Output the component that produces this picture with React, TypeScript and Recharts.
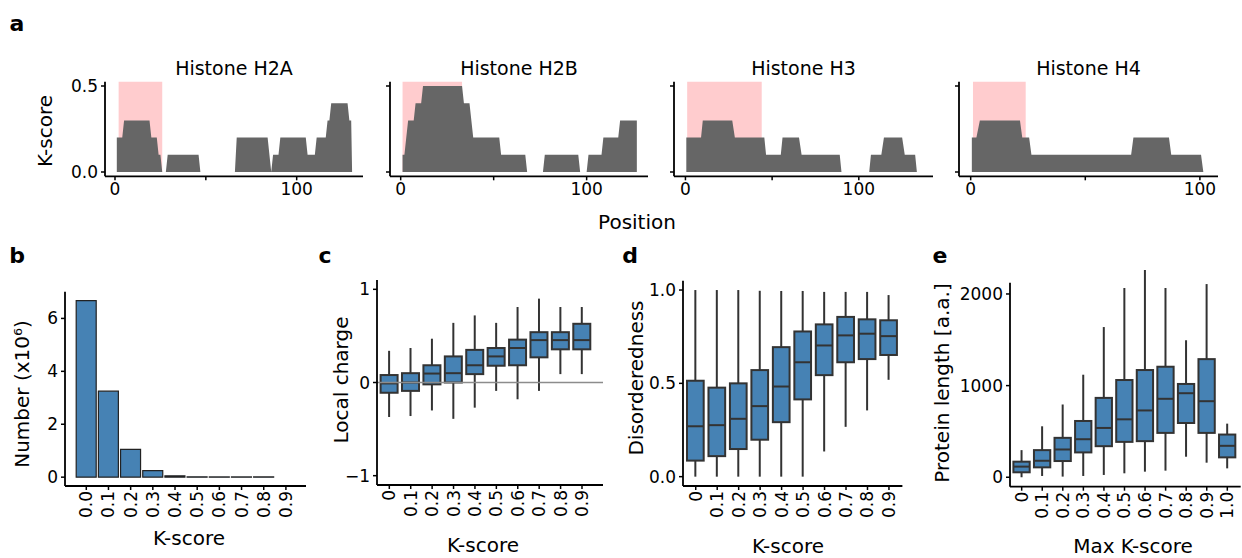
import React from "react";
import {
  AreaChart,
  Area,
  BarChart,
  Bar,
  ComposedChart,
  XAxis,
  YAxis,
  ReferenceArea,
  ReferenceLine,
} from "recharts";

const FONT = "'DejaVu Sans', sans-serif";
const STEEL = "#4682b4";
const INK = "#333333";
const PINK = "#ffccce";

// ---- panel a: K-score along each histone, [position, K-score] breakpoints ----
const h2aProfile: [number, number][] = [
  [1, 0], [1, 0.2], [4, 0.2], [5, 0.3], [19, 0.3], [20, 0.2], [23, 0.2], [24, 0.1], [25, 0.1], [26, 0],
  [28, 0], [29, 0.1], [46, 0.1], [47, 0],
  [66, 0], [67, 0.2], [84, 0.2], [86, 0], [87, 0.1], [90, 0.1], [91, 0.2], [105, 0.2], [106, 0.1],
  [110, 0.1], [111, 0.2], [116, 0.2], [117, 0.3], [118, 0.3], [119, 0.4], [128, 0.4], [129, 0.3],
  [130, 0.3], [130.5, 0],
];
const h2bProfile: [number, number][] = [
  [1, 0], [1, 0.1], [2, 0.1], [3, 0.2], [4, 0.3], [7, 0.3], [8, 0.4], [11, 0.4], [12, 0.5], [33, 0.5],
  [34, 0.4], [37, 0.4], [39, 0.2], [53, 0.2], [54, 0.1], [67, 0.1], [68, 0],
  [76.5, 0], [77.5, 0.1], [95.5, 0.1], [96.5, 0],
  [100, 0], [101, 0.1], [108, 0.1], [109, 0.2], [117, 0.2], [118, 0.3], [127, 0.3], [127, 0],
];
const h3Profile: [number, number][] = [
  [0.5, 0], [0.5, 0.2], [9, 0.2], [10, 0.3], [27, 0.3], [28.5, 0.2], [45.5, 0.2], [46.5, 0.1], [55, 0.1],
  [56, 0.2], [65.5, 0.2], [67, 0.1], [89, 0.1], [90, 0],
  [106, 0], [107, 0.1], [113, 0.1], [114.5, 0.2], [125, 0.2], [126.5, 0.1], [132.5, 0.1], [133.5, 0],
];
const h4Profile: [number, number][] = [
  [0.5, 0], [0.5, 0.2], [2.5, 0.2], [4, 0.3], [21.5, 0.3], [22.5, 0.2], [25.5, 0.2], [26.5, 0.1],
  [70, 0.1], [71, 0.2], [86.5, 0.2], [87.5, 0.1], [100.5, 0.1], [101.5, 0],
];
const histoneNames = ["Histone H2A", "Histone H2B", "Histone H3", "Histone H4"];
const tailRegions: [number, number][] = [[2, 26], [1, 33], [1, 44], [1, 24]];
const positionTicks = [0, 50, 100];
const kscoreTicks = [0, 0.5];

// ---- panel b: number of windows per K-score (x10^6) ----
const bLevels = ["0.0", "0.1", "0.2", "0.3", "0.4", "0.5", "0.6", "0.7", "0.8", "0.9"];
const bCounts = [6.67, 3.25, 1.05, 0.25, 0.05, 0.012, 0.01, 0.01, 0.01, null];

// ---- panels c-e: box statistics [low, q1, median, q3, high] ----
const kLevels = ["0", "0.1", "0.2", "0.3", "0.4", "0.5", "0.6", "0.7", "0.8", "0.9"];
const chargeStats = [
  [-0.37, -0.11, -0.01, 0.08, 0.34],
  [-0.36, -0.09, 0.0, 0.1, 0.37],
  [-0.3, -0.02, 0.096, 0.185, 0.47],
  [-0.39, 0.0, 0.1, 0.28, 0.64],
  [-0.27, 0.09, 0.185, 0.35, 0.72],
  [-0.09, 0.18, 0.28, 0.37, 0.64],
  [-0.18, 0.185, 0.37, 0.46, 0.81],
  [-0.09, 0.27, 0.455, 0.54, 0.9],
  [0.09, 0.356, 0.455, 0.54, 0.81],
  [0.09, 0.356, 0.455, 0.63, 0.81],
];
const disorderStats = [
  [0, 0.086, 0.27, 0.514, 1.0],
  [0, 0.11, 0.276, 0.477, 1.0],
  [0, 0.148, 0.31, 0.5, 1.0],
  [0, 0.198, 0.378, 0.571, 0.996],
  [0, 0.292, 0.483, 0.694, 0.995],
  [0, 0.414, 0.613, 0.778, 0.995],
  [0.135, 0.544, 0.703, 0.816, 0.99],
  [0.267, 0.613, 0.757, 0.856, 0.99],
  [0.355, 0.63, 0.766, 0.843, 0.99],
  [0.519, 0.652, 0.753, 0.838, 0.973],
];
const maxLevels = ["0", "0.1", "0.2", "0.3", "0.4", "0.5", "0.6", "0.7", "0.8", "0.9", "1.0"];
const lengthStats = [
  [0, 54, 116, 170, 296],
  [14, 108, 180, 296, 556],
  [7, 177, 303, 430, 794],
  [14, 271, 415, 614, 1119],
  [25, 339, 538, 866, 1639],
  [43, 386, 632, 1061, 2065],
  [61, 394, 729, 1170, 2325],
  [72, 484, 856, 1206, 2065],
  [224, 592, 917, 1018, 1495],
  [159, 484, 830, 1289, 2108],
  [97, 217, 343, 466, 585],
];

const tickFont = { fontSize: 17, fill: "#000", fontFamily: FONT };
const axisLine = { stroke: "#000", strokeWidth: 1.8 };
const tickLine = { stroke: "#000", strokeWidth: 1.5 };

function toBoxRows(levels: string[], stats: number[][]) {
  return levels.map((k, i) => {
    const [lo, q1, med, q3, hi] = stats[i];
    return { k, lo, q1, med, q3, hi };
  });
}

function VTick(props: any) {
  const { x, y, payload } = props;
  return (
    <text
      x={x}
      y={y}
      transform={`rotate(-90, ${x}, ${y})`}
      textAnchor="end"
      dominantBaseline="central"
      fontSize={17}
      fontFamily={FONT}
      fill="#000"
    >
      {payload.value}
    </text>
  );
}

function BoxShape(props: any) {
  const { x, y, width, height, payload } = props;
  if (!payload) return null;
  const top = Math.min(y, y + height);
  const h = Math.abs(height);
  const ppu = h / (payload.q3 - payload.q1);
  const py = (v: number) => top + (payload.q3 - v) * ppu;
  const cx = x + width / 2;
  return (
    <g>
      <line x1={cx} x2={cx} y1={py(payload.hi)} y2={top} stroke={INK} strokeWidth={2} />
      <line x1={cx} x2={cx} y1={top + h} y2={py(payload.lo)} stroke={INK} strokeWidth={2} />
      <rect x={x} y={top} width={width} height={h} fill={STEEL} stroke={INK} strokeWidth={2} />
      <line x1={x} x2={x + width} y1={py(payload.med)} y2={py(payload.med)} stroke={INK} strokeWidth={2} />
    </g>
  );
}

function Txt({ x, y, size = 20, bold = false, rotate = false, children }: any) {
  return (
    <div
      style={{
        position: "absolute",
        left: x,
        top: y,
        transform: `translate(-50%, -50%)${rotate ? " rotate(-90deg)" : ""}`,
        fontSize: size,
        fontWeight: bold ? 700 : 400,
        fontFamily: FONT,
        whiteSpace: "nowrap",
        lineHeight: 1,
        color: "#000",
      }}
    >
      {children}
    </div>
  );
}

// plot area geometry of each facet in panel a
const facetFrames = [
  { left: 105, right: 363, domain: [-5.5, 136.5] },
  { left: 390, right: 648, domain: [-5.75, 133] },
  { left: 674, right: 933, domain: [-6.6, 142.8] },
  { left: 959, right: 1218, domain: [-5.1, 107.9] },
];
const profiles = [h2aProfile, h2bProfile, h3Profile, h4Profile];

function ProfilePanel({ idx }: { idx: number }) {
  const f = facetFrames[idx];
  const rows = profiles[idx].map(([pos, k]) => ({ pos, k }));
  const yw = idx === 0 ? 50 : 10;
  const chartLeft = f.left - yw;
  const chartTop = 76;
  const mTop = 5.7;
  const plotH = 94.6;
  const xh = 28.7;
  const width = f.right - chartLeft + 10;
  return (
    <div style={{ position: "absolute", left: chartLeft, top: chartTop }}>
      <AreaChart width={width} height={mTop + plotH + xh} data={rows} margin={{ top: mTop, right: 10, bottom: 0, left: 0 }}>
        <ReferenceArea
          x1={tailRegions[idx][0]}
          x2={tailRegions[idx][1]}
          y1={0}
          y2={0.525}
          fill={PINK}
          fillOpacity={1}
          stroke="none"
        />
        <XAxis
          type="number"
          dataKey="pos"
          domain={f.domain}
          ticks={positionTicks}
          tickFormatter={(v: number) => (v === 50 ? "" : String(v))}
          height={xh}
          tick={tickFont}
          tickSize={4}
          tickMargin={3}
          axisLine={axisLine}
          tickLine={tickLine}
        />
        <YAxis
          type="number"
          domain={[-0.025, 0.525]}
          ticks={kscoreTicks}
          width={yw}
          tickFormatter={(v: number) => (idx === 0 ? v.toFixed(1) : "")}
          tick={tickFont}
          tickSize={4}
          tickMargin={3}
          axisLine={axisLine}
          tickLine={tickLine}
        />
        <Area
          dataKey="k"
          type="linear"
          fill="#666666"
          fillOpacity={1}
          stroke="none"
          baseValue={0}
          dot={false}
          activeDot={false}
          isAnimationActive={false}
        />
      </AreaChart>
    </div>
  );
}

function BoxPanel({ rows, frame, domain, ticks, fmt, pad, boxW, zeroLine = false }: any) {
  const chartTop = 270;
  const chartLeft = frame.left - 62;
  const mTop = frame.top - chartTop;
  const plotH = frame.bottom - frame.top;
  const xh = 44;
  return (
    <div style={{ position: "absolute", left: chartLeft, top: chartTop }}>
      <ComposedChart
        width={frame.right - chartLeft + (frame.padR ?? 6)}
        height={mTop + plotH + xh}
        data={rows}
        margin={{ top: mTop, right: frame.padR ?? 6, bottom: 0, left: 0 }}
      >
        {zeroLine && <ReferenceLine y={0} stroke="#8c8c8c" strokeWidth={1.6} />}
        <XAxis
          dataKey="k"
          type="category"
          interval={0}
          padding={pad}
          height={xh}
          tick={<VTick />}
          tickSize={4}
          tickMargin={1}
          axisLine={axisLine}
          tickLine={tickLine}
        />
        <YAxis
          type="number"
          domain={domain}
          ticks={ticks}
          width={62}
          tickFormatter={fmt}
          tick={tickFont}
          tickSize={4}
          tickMargin={3}
          axisLine={axisLine}
          tickLine={tickLine}
        />
        <Bar
          dataKey={(d: any) => [d.q1, d.q3]}
          barSize={boxW}
          shape={<BoxShape />}
          isAnimationActive={false}
        />
      </ComposedChart>
    </div>
  );
}

export default function App() {
  const bRows = bLevels.map((k, i) => ({ k, n: bCounts[i] }));
  return (
    <div style={{ position: "absolute", left: 0, top: 0, width: 1242, height: 558, background: "#fff", overflow: "hidden" }}>
      <Txt x={17} y={24} size={22} bold>a</Txt>
      {histoneNames.map((name, i) => (
        <Txt key={name} x={(facetFrames[i].left + facetFrames[i].right) / 2} y={68} size={19}>
          {name}
        </Txt>
      ))}
      {[0, 1, 2, 3].map((i) => (
        <ProfilePanel key={i} idx={i} />
      ))}
      <Txt x={45} y={131} rotate>K-score</Txt>
      <Txt x={637} y={222}>Position</Txt>

      {/* b */}
      <Txt x={17} y={256} size={22} bold>b</Txt>
      <div style={{ position: "absolute", left: 0, top: 280 }}>
        <BarChart width={316} height={11.7 + 194.3 + 44} data={bRows} margin={{ top: 11.7, right: 10, bottom: 0, left: 0 }}>
          <XAxis
            dataKey="k"
            type="category"
            interval={0}
            padding={{ left: 10.2, right: 9 }}
            height={44}
            tick={<VTick />}
            tickSize={4}
            tickMargin={1}
            axisLine={axisLine}
            tickLine={tickLine}
          />
          <YAxis
            type="number"
            domain={[-0.334, 7.01]}
            ticks={[0, 2, 4, 6]}
            width={65}
            tick={tickFont}
            tickSize={4}
            tickMargin={3}
            axisLine={axisLine}
            tickLine={tickLine}
          />
          <Bar dataKey="n" barSize={20} fill={STEEL} stroke="#222" strokeWidth={1.2} isAnimationActive={false} />
        </BarChart>
      </div>
      <Txt x={22} y={394} rotate>Number (x10⁶)</Txt>
      <Txt x={189} y={538}>K-score</Txt>

      {/* c */}
      <Txt x={325} y={256} size={22} bold>c</Txt>
      <BoxPanel
        rows={toBoxRows(kLevels, chargeStats)}
        frame={{ left: 376.7, right: 602.7, top: 280, bottom: 485 }}
        domain={[-1.1, 1.1]}
        ticks={[-1, 0, 1]}
        fmt={(v: number) => (v < 0 ? "\u2212" + Math.abs(v) : String(v))}
        pad={{ left: 1.6, right: 10.3 }}
        boxW={17}
        zeroLine
      />
      <Txt x={341} y={380} rotate>Local charge</Txt>
      <Txt x={483} y={545}>K-score</Txt>

      {/* d */}
      <Txt x={630} y={256} size={22} bold>d</Txt>
      <BoxPanel
        rows={toBoxRows(kLevels, disorderStats)}
        frame={{ left: 683.3, right: 902.7, top: 280.7, bottom: 486 }}
        domain={[-0.05, 1.05]}
        ticks={[0, 0.5, 1]}
        fmt={(v: number) => v.toFixed(1)}
        pad={{ left: 2, right: 2.7 }}
        boxW={16.7}
      />
      <Txt x={636} y={378} rotate>Disorderedness</Txt>
      <Txt x={788} y={546}>K-score</Txt>

      {/* e */}
      <Txt x={940} y={256} size={22} bold>e</Txt>
      <BoxPanel
        rows={toBoxRows(maxLevels, lengthStats)}
        frame={{ left: 1010, right: 1240.7, top: 282.7, bottom: 486.7, padR: 1 }}
        domain={[-103, 2123]}
        ticks={[0, 1000, 2000]}
        fmt={(v: number) => String(v)}
        pad={{ left: 1.4, right: 3.1 }}
        boxW={16.3}
      />
      <Txt x={942} y={383} rotate>Protein length [a.a.]</Txt>
      <Txt x={1133} y={546}>Max K-score</Txt>
    </div>
  );
}
